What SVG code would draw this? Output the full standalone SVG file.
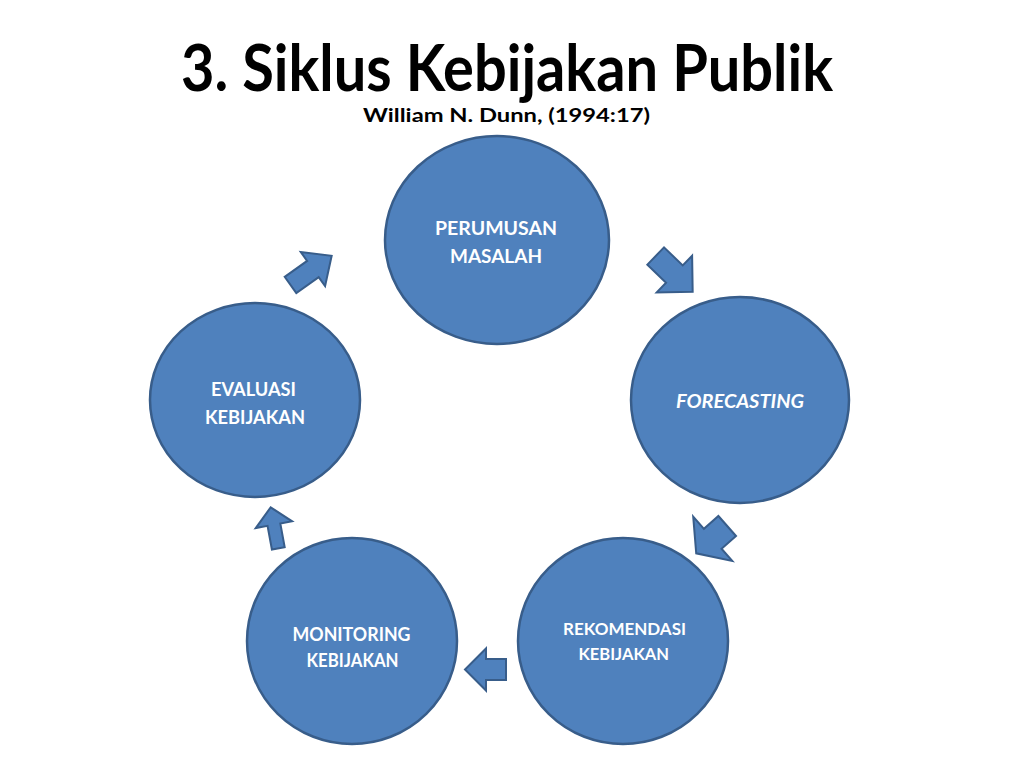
<svg xmlns="http://www.w3.org/2000/svg" width="1024" height="768" viewBox="0 0 1024 768">
<style>
.node{fill:#4F81BD;stroke:#385D8A;stroke-width:2.5}
.arr{fill:#4F81BD;stroke:#385D8A;stroke-width:2;stroke-linejoin:miter}
.lbl{font-family:Lato,"Open Sans","Liberation Sans",sans-serif;font-weight:bold;fill:#FFFFFF;text-anchor:start}
.ttl{font-family:Lato,"Open Sans","Liberation Sans",sans-serif;font-weight:bold;fill:#000000}
</style>
<rect width="1024" height="768" fill="#FFFFFF"/>
<text class="ttl" x="181" y="91" font-size="65" textLength="652" lengthAdjust="spacingAndGlyphs">3. Siklus Kebijakan Publik</text>
<text class="ttl" x="363" y="122" font-size="19" textLength="287" lengthAdjust="spacingAndGlyphs">William N. Dunn, (1994:17)</text>
<g id="connectors">
<polygon class="arr" transform="translate(290.5,285) rotate(-35.4)" points="0,-10 27.5,-10 27.5,-21 50.5,0 27.5,21 27.5,10 0,10"/>
<polygon class="arr" transform="translate(655.7,256) rotate(44)" points="0,-12 26,-12 26,-25.5 51.4,0 26,25.5 26,12 0,12"/>
<polygon class="arr" transform="translate(727.2,526) rotate(138.6)" points="0,-13.3 19.3,-13.3 19.3,-29.5 41.3,0 19.3,29.5 19.3,13.3 0,13.3"/>
<polygon class="arr" transform="translate(506,669.5) rotate(180)" points="0,-10.5 20,-10.5 20,-21 41,0 20,21 20,10.5 0,10.5"/>
<polygon class="arr" transform="translate(278.3,548.3) rotate(-100.5)" points="0,-6.5 24,-6.5 24,-18.5 41.7,0 24,18.5 24,6.5 0,6.5"/>
</g>
<g id="perumusan">
<ellipse class="node" cx="497" cy="240" rx="112" ry="104"/>
<text class="lbl" x="435" y="235" font-size="19" textLength="122" lengthAdjust="spacingAndGlyphs">PERUMUSAN</text>
<text class="lbl" x="450" y="263" font-size="19" textLength="92" lengthAdjust="spacingAndGlyphs">MASALAH</text>
</g>
<g id="forecasting">
<ellipse class="node" cx="740" cy="400" rx="109" ry="103"/>
<text class="lbl" x="676" y="407.5" font-size="18" font-style="italic" textLength="128" lengthAdjust="spacingAndGlyphs">FORECASTING</text>
</g>
<g id="rekomendasi">
<ellipse class="node" cx="623" cy="641" rx="105" ry="103"/>
<text class="lbl" x="563" y="635" font-size="17" textLength="123" lengthAdjust="spacingAndGlyphs">REKOMENDASI</text>
<text class="lbl" x="578.5" y="659.5" font-size="17" textLength="90.5" lengthAdjust="spacingAndGlyphs">KEBIJAKAN</text>
</g>
<g id="monitoring">
<ellipse class="node" cx="352" cy="641" rx="105" ry="103"/>
<text class="lbl" x="292.5" y="641" font-size="19" textLength="118" lengthAdjust="spacingAndGlyphs">MONITORING</text>
<text class="lbl" x="306.5" y="666.5" font-size="19" textLength="92" lengthAdjust="spacingAndGlyphs">KEBIJAKAN</text>
</g>
<g id="evaluasi">
<ellipse class="node" cx="255" cy="400" rx="105" ry="97"/>
<text class="lbl" x="211" y="395.5" font-size="19" textLength="85" lengthAdjust="spacingAndGlyphs">EVALUASI</text>
<text class="lbl" x="205" y="424" font-size="19" textLength="100" lengthAdjust="spacingAndGlyphs">KEBIJAKAN</text>
</g>
</svg>
